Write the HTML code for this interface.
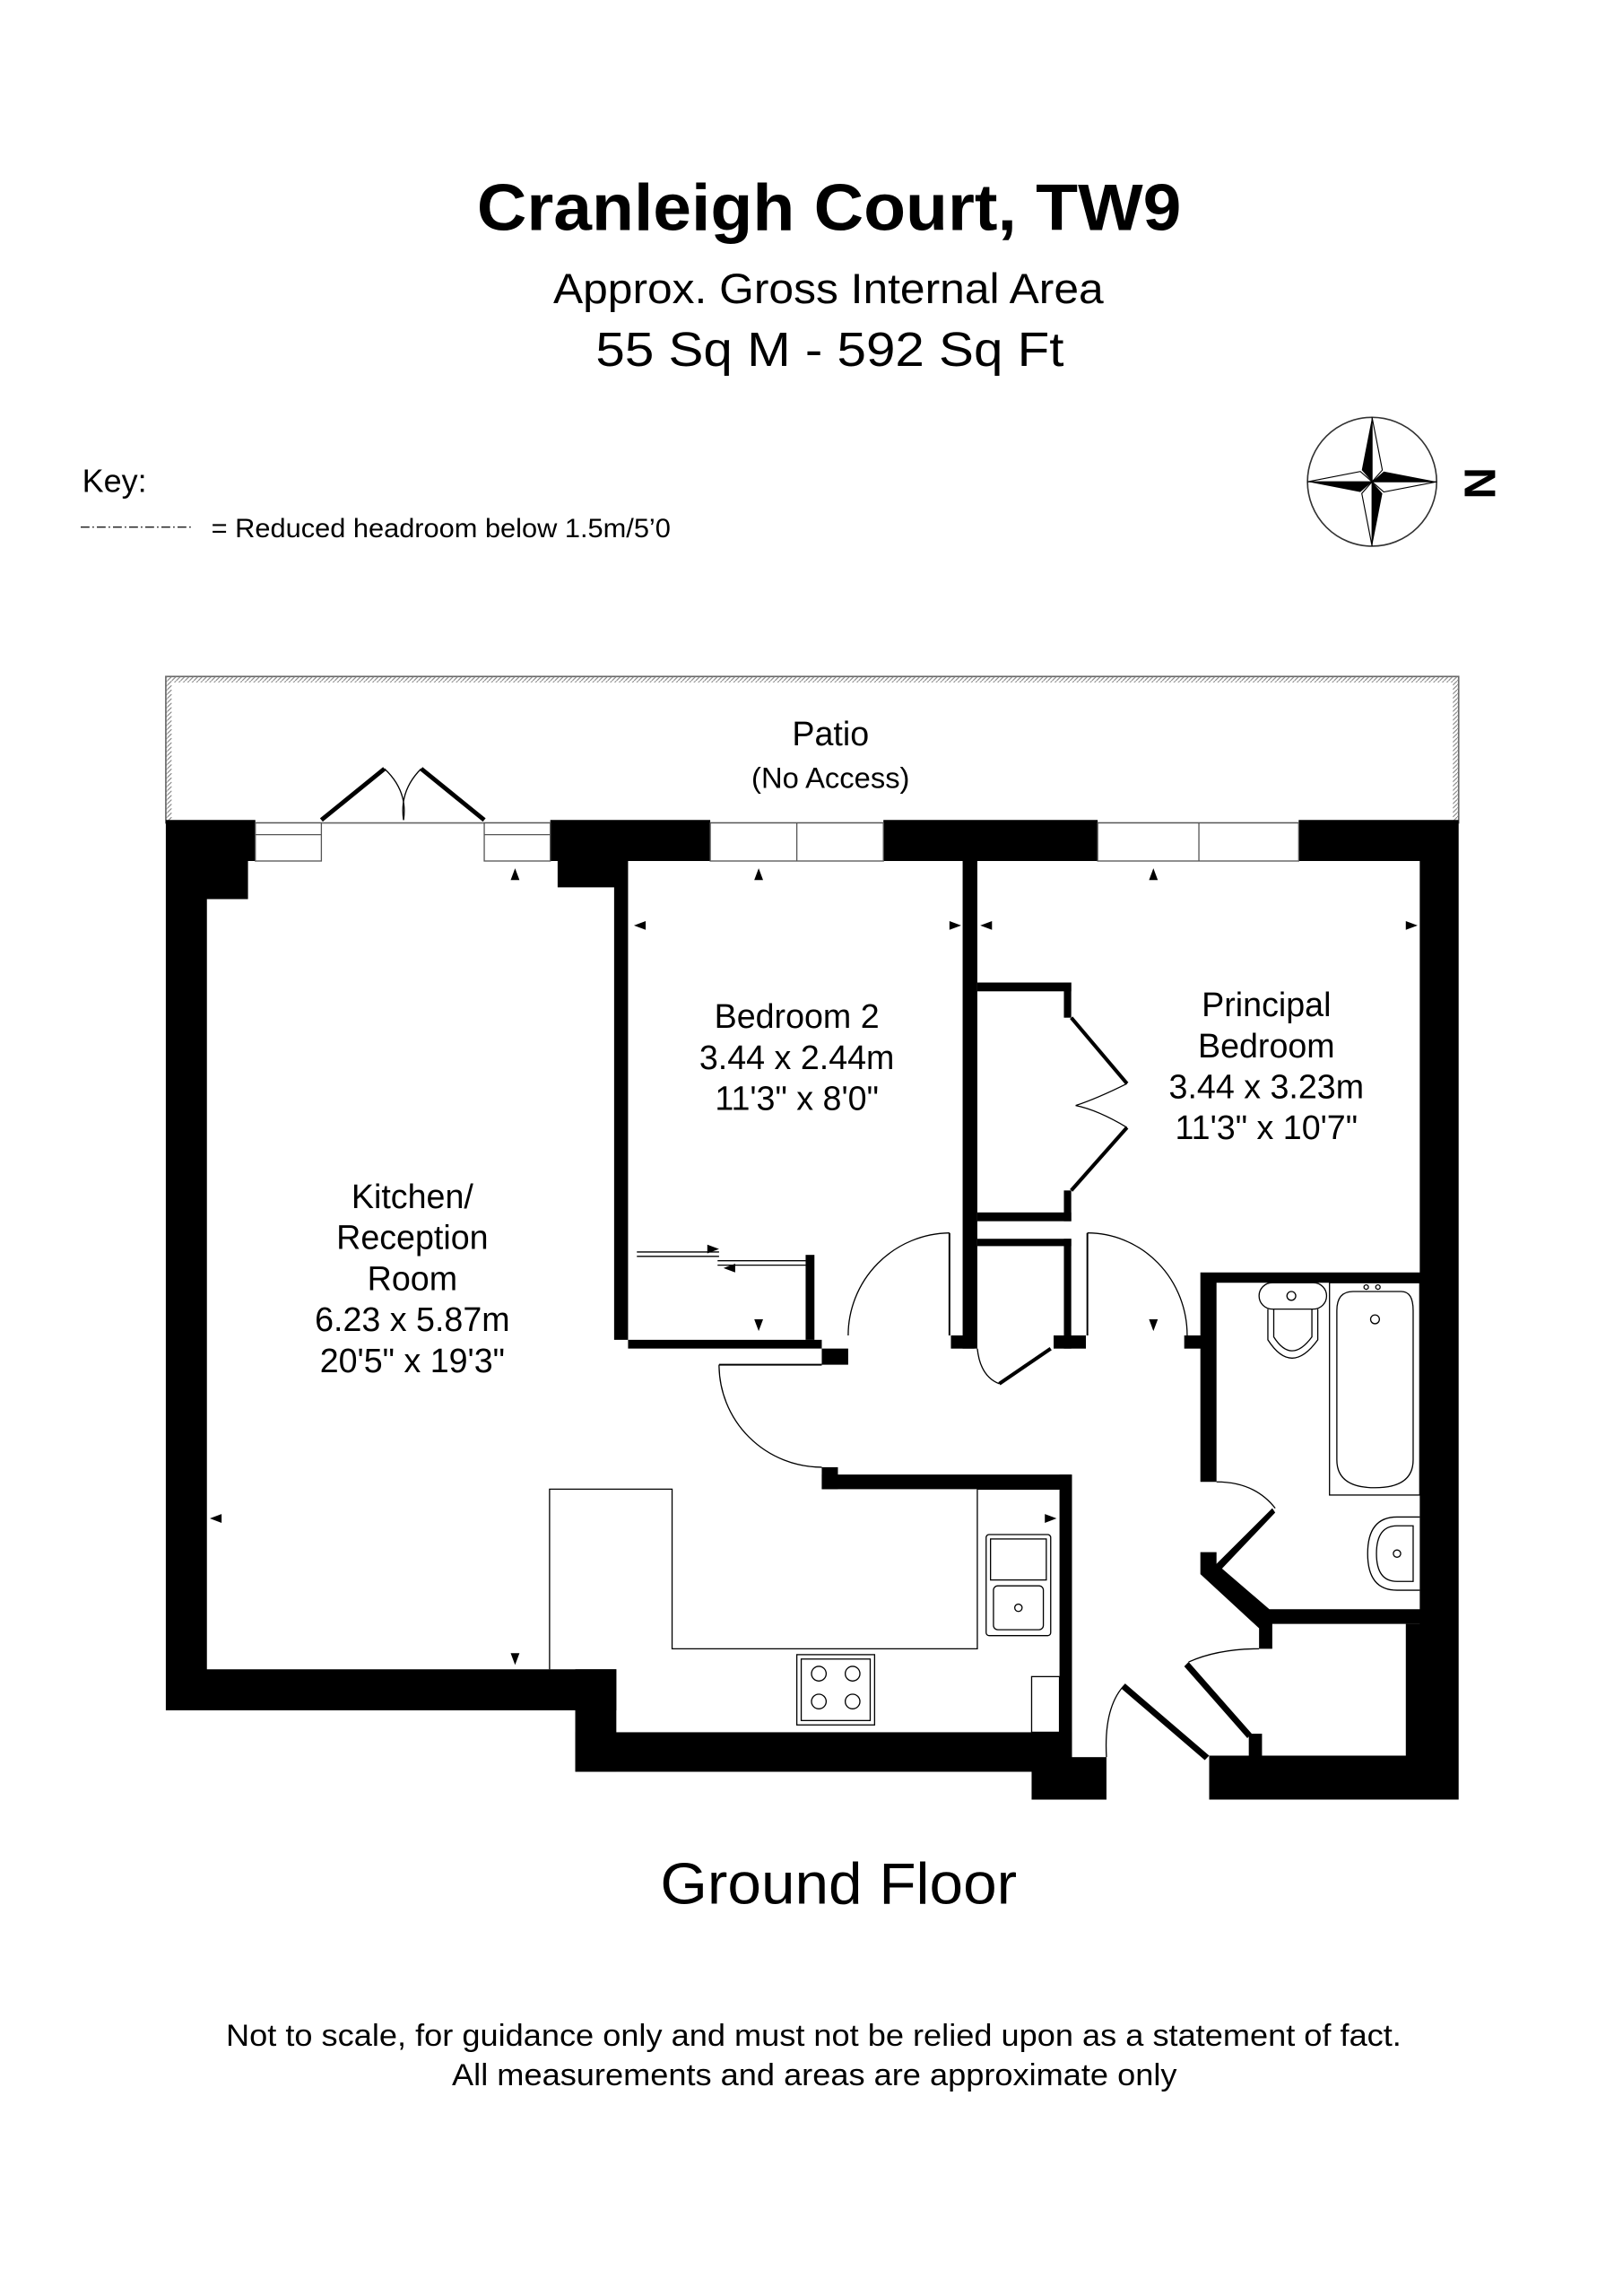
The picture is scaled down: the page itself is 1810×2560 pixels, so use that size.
<!DOCTYPE html>
<html><head><meta charset="utf-8"><style>
html,body{margin:0;padding:0;background:#fff;}
svg{display:block;}
text{font-family:"Liberation Sans",Arial,sans-serif;fill:#000;}
</style></head><body>
<svg width="1810" height="2560" viewBox="0 0 1106 1568" preserveAspectRatio="none" xmlns="http://www.w3.org/2000/svg">
<defs>
<pattern id="h" width="3" height="3" patternUnits="userSpaceOnUse"><path d="M0,3 L3,0" stroke="#777" stroke-width="0.6"/></pattern>
</defs>
<text x="325" y="157" font-size="45" font-weight="bold" textLength="480" lengthAdjust="spacingAndGlyphs">Cranleigh Court, TW9</text>
<text x="377" y="207" font-size="29" textLength="375" lengthAdjust="spacingAndGlyphs">Approx. Gross Internal Area</text>
<text x="406" y="250" font-size="33" textLength="319" lengthAdjust="spacingAndGlyphs">55 Sq M -  592 Sq Ft</text>
<text x="56" y="336" font-size="22">Key:</text>
<line x1="55" y1="360" x2="131" y2="360" stroke="#000" stroke-width="0.8" stroke-dasharray="6,2,1,2"/>
<text x="144" y="367" font-size="18" textLength="313" lengthAdjust="spacingAndGlyphs">= Reduced headroom below 1.5m/5’0</text>
<g transform="translate(935,329)">
<circle r="44" fill="none" stroke="#333" stroke-width="1"/>
<polygon points="0,-44 -7,-8 0,0" fill="#000"/><polygon points="0,-44 7,-8 0,0" fill="#fff" stroke="#000" stroke-width="0.7"/>
<polygon points="44,0 8,-7 0,0" fill="#000"/><polygon points="44,0 8,7 0,0" fill="#fff" stroke="#000" stroke-width="0.7"/>
<polygon points="0,44 7,8 0,0" fill="#000"/><polygon points="0,44 -7,8 0,0" fill="#fff" stroke="#000" stroke-width="0.7"/>
<polygon points="-44,0 -8,7 0,0" fill="#000"/><polygon points="-44,0 -8,-7 0,0" fill="#fff" stroke="#000" stroke-width="0.7"/>
</g>
<text x="0" y="0" font-size="30" font-weight="bold" text-anchor="middle" transform="translate(998,330) rotate(90)">N</text>

<rect x="113" y="462" width="881" height="100" fill="none" stroke="#666" stroke-width="1"/>
<path d="M113,462 H994 V562 H990 V466 H117 V562 H113 Z" fill="url(#h)"/>
<text x="566" y="509" font-size="23" text-anchor="middle">Patio</text>
<text x="566" y="538" font-size="20" text-anchor="middle">(No Access)</text>

<g fill="#000">
<path d="M113,560 H174 V588 H169 V614 H141 V1140 H420 V1168 H113 Z"/>
<rect x="392" y="1140" width="28" height="70"/>
<rect x="392" y="1183" width="338.5" height="27"/>
<rect x="722" y="1007" width="8.5" height="203"/>
<rect x="560" y="1007" width="170" height="10"/>
<rect x="560" y="1002" width="11" height="15"/>
<rect x="703" y="1200" width="51" height="29"/>
<path d="M375,560 H484 V588 H428 V921 H578 V932 H560 V915 H418.5 V606 H380 V588 H375 Z"/>
<path d="M602,560 H748 V588 H666 V833 H656 V588 H602 Z"/>
<path d="M885,560 H994 V1229 H824 V1199 H958 V1109 H967.5 V588 H885 Z"/>
</g>
<g fill="#fff" stroke="#555" stroke-width="0.8">
<rect x="174" y="562" width="45" height="26"/><line x1="174" y1="570" x2="219" y2="570"/>
<rect x="330" y="562" width="45" height="26"/><line x1="330" y1="570" x2="375" y2="570"/>
<rect x="484" y="562" width="118" height="26"/><line x1="543" y1="562" x2="543" y2="588"/>
<rect x="748" y="562" width="137" height="26"/><line x1="817" y1="562" x2="817" y2="588"/>
</g>
<g stroke="#000" fill="none">
<line x1="219" y1="560" x2="262" y2="525" stroke-width="3"/>
<line x1="330" y1="560" x2="287" y2="525" stroke-width="3"/>
<path d="M262,525 Q278,540 275,560" stroke-width="0.8"/>
<path d="M287,525 Q272,540 275,560" stroke-width="0.8"/>
</g>
<g fill="#000">
<rect x="656" y="833" width="10" height="88"/>
<rect x="648" y="912" width="16" height="9"/>
<rect x="666" y="671" width="64" height="6"/>
<rect x="725" y="671" width="5" height="24"/>
<rect x="725" y="813" width="5" height="21"/>
<rect x="666" y="828" width="64" height="6"/>
<rect x="666" y="846" width="64" height="5"/>
<rect x="725" y="846" width="5" height="75"/>
<rect x="718" y="912" width="22" height="9"/>
<rect x="807" y="912" width="12" height="9"/>
<rect x="549" y="857" width="6" height="58"/>
<path d="M818,869 H968 V876 H829 V1012 H818 Z"/>
<path d="M818,1060 L829,1060 L829,1068 L865,1099 H968 V1109 H867 V1126 H858 V1112 L818,1075 Z"/>
<rect x="851" y="1184" width="9" height="17"/>
<polygon points="829,1068 867,1030 869,1033 832,1072"/>
<polygon points="810,1135 853,1184 850,1187 807,1138"/>
<polygon points="767,1150 824,1199 821,1202 764,1153"/>
</g>
<g fill="none" stroke="#000" stroke-width="0.8">
<line x1="730" y1="695" x2="768" y2="740" stroke-width="2.5"/>
<line x1="730" y1="813" x2="768" y2="770" stroke-width="2.5"/>
<path d="M768,740 Q748,750 733,755"/><path d="M768,770 Q748,758 733,755"/>
<line x1="681" y1="945" x2="716" y2="921" stroke-width="2.5"/>
<path d="M666,921 Q668,940 681,945"/>
<line x1="647" y1="842" x2="647" y2="912" stroke-width="1.2"/>
<path d="M647,842 A70,70 0 0 0 578,912"/>
<line x1="741" y1="842" x2="741" y2="912" stroke-width="1.2"/>
<path d="M741,842 A68,70 0 0 1 809,912"/>
<line x1="490" y1="932" x2="560" y2="932" stroke-width="1.2"/>
<path d="M490,932 A70,70 0 0 0 560,1002"/>
<path d="M829,1012 Q855,1012 869,1030"/>
<path d="M858,1126 Q830,1126 810,1135"/>
<path d="M754,1200 Q752,1165 767,1150"/>
<line x1="434" y1="855" x2="490" y2="855"/><line x1="434" y1="858" x2="490" y2="858"/>
<line x1="489" y1="861" x2="549" y2="861"/><line x1="489" y1="864" x2="549" y2="864"/>
<path d="M374.5,1140 V1017 H458 V1126 H666 V1017"/>
<line x1="666" y1="1017" x2="722" y2="1017"/>
<rect x="672" y="1048" width="44" height="69" rx="2"/>
<rect x="675" y="1051" width="38" height="28"/>
<rect x="677" y="1083" width="34" height="30" rx="3"/>
<circle cx="694" cy="1098" r="2.5"/>
<rect x="543" y="1130" width="53" height="48"/>
<rect x="546" y="1133" width="47" height="42"/>
<circle cx="558" cy="1143" r="5"/><circle cx="581" cy="1143" r="5"/><circle cx="558" cy="1162" r="5"/><circle cx="581" cy="1162" r="5"/>
<rect x="703" y="1145" width="19" height="38"/>
<rect x="858" y="876" width="46" height="18" rx="9"/>
<path d="M864,894 V915 Q880,940 898,915 V894"/>
<path d="M868,894 V913 Q880,932 894,913 V894"/>
<circle cx="880" cy="885" r="3"/>
<rect x="906" y="876" width="61.5" height="145"/>
<path d="M911,895 Q911,882 922,882 H955 Q963,882 963,895 V997 Q963,1016 937,1016 Q911,1016 911,997 Z"/>
<circle cx="937" cy="901" r="3"/><circle cx="931" cy="879" r="1.5"/><circle cx="939" cy="879" r="1.5"/>
<path d="M967.5,1036 H952 Q932,1036 932,1061 Q932,1086 952,1086 H967.5"/>
<path d="M963,1042 H952 Q938,1042 938,1061 Q938,1080 952,1080 H963 Z"/>
<circle cx="952" cy="1061" r="2.5"/>
</g>
<g fill="#000">
<polygon points="351,593 348,601 354,601"/>
<polygon points="517,593 514,601 520,601"/>
<polygon points="786,593 783,601 789,601"/>
<polygon points="432,632 440,629 440,635"/>
<polygon points="655,632 647,629 647,635"/>
<polygon points="668,632 676,629 676,635"/>
<polygon points="966,632 958,629 958,635"/>
<polygon points="143,1037 151,1034 151,1040"/>
<polygon points="720,1037 712,1034 712,1040"/>
<polygon points="351,1137 348,1129 354,1129"/>
<polygon points="517,909 514,901 520,901"/>
<polygon points="786,909 783,901 789,901"/>
<polygon points="490,853 482,850 482,856"/>
<polygon points="493,866 501,863 501,869"/>
</g>
<g font-size="23" text-anchor="middle">
<text x="543" y="702">Bedroom 2</text>
<text x="543" y="730">3.44 x 2.44m</text>
<text x="543" y="758">11'3" x 8'0"</text>
<text x="863" y="694">Principal</text>
<text x="863" y="722">Bedroom</text>
<text x="863" y="750">3.44 x 3.23m</text>
<text x="863" y="778">11'3" x 10'7"</text>
<text x="281" y="825">Kitchen/</text>
<text x="281" y="853">Reception</text>
<text x="281" y="881">Room</text>
<text x="281" y="909">6.23 x 5.87m</text>
<text x="281" y="937">20'5" x 19'3"</text>
</g>
<text x="450" y="1300" font-size="40" textLength="243" lengthAdjust="spacingAndGlyphs">Ground Floor</text>
<text x="154" y="1397" font-size="21" textLength="801" lengthAdjust="spacingAndGlyphs">Not to scale, for guidance only and must not be relied upon as a statement of fact.</text>
<text x="308" y="1424" font-size="21" textLength="494" lengthAdjust="spacingAndGlyphs">All measurements and areas are approximate only</text>
</svg>
</body></html>
